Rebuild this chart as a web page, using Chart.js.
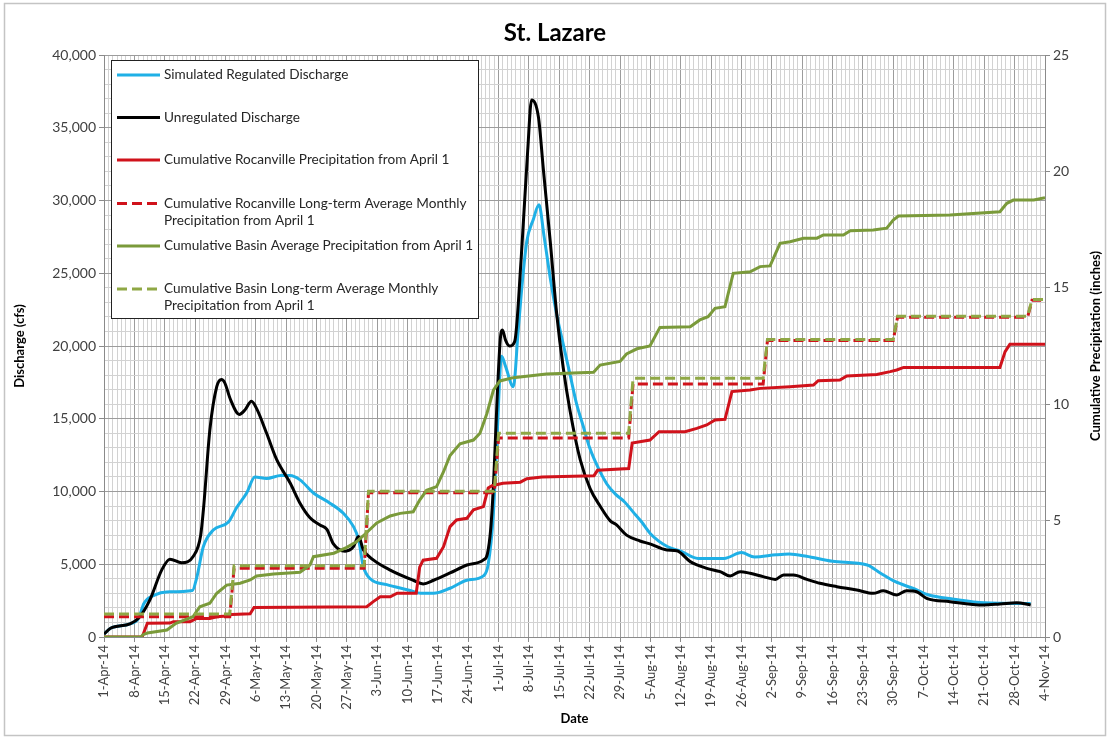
<!DOCTYPE html>
<html>
<head>
<meta charset="utf-8">
<title>St. Lazare</title>
<script src="https://cdn.jsdelivr.net/npm/chart.js@4.4.0/dist/chart.umd.min.js"></script>
<style>
  html, body { margin: 0; padding: 0; background: #fff; }
  #wrap { width: 1110px; height: 740px; }
</style>
</head>
<body>
<div id="wrap"><canvas id="stLazareChart" width="1110" height="740"></canvas></div>
<script>
// x values are days since 1-Apr-14
const dateLabels = ['1-Apr-14', '8-Apr-14', '15-Apr-14', '22-Apr-14', '29-Apr-14', '6-May-14', '13-May-14',
  '20-May-14', '27-May-14', '3-Jun-14', '10-Jun-14', '17-Jun-14', '24-Jun-14', '1-Jul-14', '8-Jul-14',
  '15-Jul-14', '22-Jul-14', '29-Jul-14', '5-Aug-14', '12-Aug-14', '19-Aug-14', '26-Aug-14', '2-Sep-14',
  '9-Sep-14', '16-Sep-14', '23-Sep-14', '30-Sep-14', '7-Oct-14', '14-Oct-14', '21-Oct-14', '28-Oct-14', '4-Nov-14'];

const seriesNames = [
  'Simulated Regulated Discharge',
  'Unregulated Discharge',
  'Cumulative Rocanville Precipitation from April 1',
  'Cumulative Rocanville Long-term Average Monthly\nPrecipitation from April 1',
  'Cumulative Basin Average Precipitation from April 1',
  'Cumulative Basin Long-term Average Monthly\nPrecipitation from April 1'
];

// discharge (cfs)
const regulatedFlow = [[0,200],[1.5,600],[6,900],[8,1300],[9.2,2300],[11.8,2900],[14.4,3100],[20.4,3200],
  [21.4,4100],[22.9,6200],[25.2,7350],[28.7,7900],[30.6,8900],[32.9,9900],[34.8,11000],[37.5,10900],
  [40.8,11100],[42.9,11100],[45.2,10800],[48.3,9900],[52.1,9200],[55.2,8500],[57.5,7600],[58.7,6700],
  [59.8,4850],[61.4,4000],[65.2,3600],[70.6,3200],[73,3000],[76,3000],[79.8,3350],[83.7,3900],[87.5,4200],
  [88.6,5000],[89.8,8500],[90.6,13500],[91.7,19300],[92.6,18600],[94.4,17200],[95.5,21000],[96.5,24500],
  [97.5,27200],[99,28700],[100.3,29700],[101.5,27500],[103,24500],[104.5,22000],[106,20000],[107.5,18000],
  [109,16000],[110.5,14500],[112,13000],[114,11600],[116,10500],[118,9800],[120,9300],[122,8600],[124,7900],
  [126,7100],[130,6200],[133,5900],[137,5400],[143,5400],[147,5800],[150,5500],[155,5650],[158,5700],
  [162,5550],[168,5200],[176,4950],[179,4400],[182.5,3800],[186.5,3350],[190,2900],[196,2600],[203,2350],
  [213.7,2300]];

const unregulatedFlow = [[0,200],[1.5,600],[6,900],[8,1300],[10.5,2500],[13.3,4600],[15.2,5350],[17.9,5100],
  [20.6,5550],[22.3,7000],[23,9000],[24.4,14200],[26,17200],[27.1,17700],[27.8,17500],[29.2,16300],
  [31.2,15300],[32.5,15600],[34,16200],[35.2,15700],[37.5,14000],[39.8,12200],[42.9,10600],[45.2,9200],
  [47.5,8200],[49.8,7700],[51.4,7400],[52.9,6400],[55.6,5900],[57.5,6200],[58.7,6900],[59.8,6000],
  [62.1,5300],[66,4600],[71.3,3900],[73.6,3650],[76,3900],[79.8,4400],[83.7,4950],[87.5,5300],[88.4,5700],
  [89.2,7500],[89.9,11000],[90.6,16000],[91.4,20500],[91.9,21100],[92.6,20400],[93.5,20000],[94.7,20300],
  [96.2,26000],[97.7,33400],[98.6,36900],[100.2,35700],[101.3,32200],[102.9,27200],[104.4,22200],
  [105.9,18500],[107.5,15500],[109.8,12200],[112.1,10200],[114.4,9000],[116.7,8000],[118.2,7700],
  [120.5,7000],[123.6,6600],[125.9,6400],[129.8,5980],[132.1,5930],[135.2,5180],[139,4720],[142.1,4490],
  [144.4,4190],[146.7,4490],[149,4380],[152,4150],[154.8,3960],[156.7,4260],[159,4260],[162.1,3960],
  [165.1,3690],[169,3460],[173.6,3230],[177.4,3000],[179.7,3180],[182.8,2890],[185.1,3180],[187.4,3110],
  [189.7,2660],[195.1,2430],[202.8,2200],[206.6,2270],[210.5,2360],[213.7,2200]];

// cumulative precipitation (inches)
const rocanvillePrecip = [[0,0],[8.8,0],[10,0.59],[15.2,0.6],[16,0.66],[19.8,0.66],[21.4,0.8],[24.4,0.8],
  [26,0.87],[28.3,0.9],[29.5,0.97],[33.7,1.0],[34.6,1.27],[60.6,1.3],[62.1,1.52],[63.7,1.73],[66,1.73],
  [67.6,1.88],[72,1.88],[72.8,3.0],[73.6,3.3],[76.7,3.38],[78.3,3.88],[79.8,4.74],[81.3,5.03],[83.7,5.1],
  [85.2,5.46],[87.5,5.6],[88.6,6.4],[89.5,6.5],[92,6.6],[96,6.65],[97.5,6.8],[101,6.87],[113,6.93],
  [113.8,7.16],[121,7.24],[121.8,8.33],[125.9,8.46],[128,8.82],[134,8.82],[136.7,8.96],[139,9.11],
  [140.9,9.32],[143.2,9.35],[144.8,10.54],[149,10.61],[151.3,10.68],[158.2,10.75],[163.6,10.82],
  [164.7,11.01],[169.7,11.04],[171.3,11.21],[178.2,11.28],[181.3,11.4],[182.8,11.47],[184.4,11.58],
  [206.6,11.58],[207.8,12.26],[208.9,12.57],[217,12.57]];

const basinPrecip = [[0,0],[8.5,0],[9,0.1],[10,0.17],[14.5,0.3],[16.6,0.59],[20.5,0.87],[22.1,1.3],
  [24.4,1.45],[26,1.88],[28.3,2.23],[31.4,2.31],[33.7,2.45],[35.2,2.62],[39.1,2.71],[45.2,2.78],[47.5,3.09],
  [48.3,3.45],[53,3.6],[56,3.85],[58.3,4.1],[59.8,4.35],[62.9,4.9],[66,5.2],[68.3,5.31],[71.3,5.38],
  [72.8,5.88],[74.4,6.3],[76.7,6.46],[78.3,7.1],[79.8,7.8],[82.1,8.3],[85.2,8.46],[86.7,8.75],[88.3,9.6],
  [89.8,10.6],[91.3,11.0],[94.4,11.14],[102,11.3],[112.9,11.37],[114.4,11.68],[119,11.84],[120.5,12.16],
  [122.9,12.38],[125.9,12.5],[128.2,13.3],[135.2,13.33],[137.4,13.62],[139.3,13.76],[140.9,14.12],
  [143.2,14.19],[145.1,15.62],[149,15.69],[151.3,15.91],[153.6,15.94],[155.9,16.91],[158.2,16.98],
  [161.3,17.13],[164.4,17.13],[165.9,17.27],[170.5,17.27],[172.1,17.45],[177.4,17.48],[180.5,17.56],
  [182,17.91],[183.2,18.08],[195.1,18.13],[206.6,18.27],[208.2,18.63],[209.7,18.77],[214.4,18.77],[217,18.87]];

// long-term average monthly values, cumulative (inches)
const monthStartDays = [0, 30, 61, 91, 122, 153, 183, 214];
const rocanvilleLtAvg = [0.87, 2.95, 6.2, 8.55, 10.87, 12.74, 13.74, 14.46];
const basinLtAvg = [0.99, 3.06, 6.26, 8.75, 11.11, 12.78, 13.78, 14.5];
const lastDay = 217;

const rightAxisTitle = 'Cumulative Precipitation (inches)';

function toPoints(pairs) {
  return pairs.map(p => ({ x: p[0], y: p[1] }));
}

// monthly steps: value changes between last day of month and first day of next
function monthlySteps(values) {
  const pts = [];
  values.forEach((v, i) => {
    if (i > 0) pts.push({ x: monthStartDays[i] - 1, y: values[i - 1] });
    pts.push({ x: monthStartDays[i], y: v });
  });
  pts.push({ x: lastDay, y: values[values.length - 1] });
  return pts;
}

const FONT = 'Lato';
const minorGrid = '#d2d2d2';
const majorGrid = '#9c9c9c';

// white background + light frame round the whole chart
const framePlugin = {
  id: 'frame',
  beforeDraw(chart) {
    const ctx = chart.ctx;
    ctx.save();
    ctx.fillStyle = '#fff';
    ctx.fillRect(0, 0, chart.width, chart.height);
    ctx.strokeStyle = '#c4c4c4';
    ctx.lineWidth = 1.5;
    ctx.strokeRect(4.5, 3.5, chart.width - 9, chart.height - 8);
    ctx.restore();
  }
};

// boxed legend inside the plot area, top-left
const boxLegendPlugin = {
  id: 'boxLegend',
  afterDatasetsDraw(chart) {
    const ctx = chart.ctx;
    const rowY = [75, 117.5, 160, 203.5, 246, 289];
    ctx.save();
    ctx.fillStyle = '#fff';
    ctx.fillRect(111.5, 60.5, 367, 258);
    ctx.strokeStyle = '#222';
    ctx.lineWidth = 1;
    ctx.strokeRect(111.5, 60.5, 367, 258);
    chart.data.datasets.forEach((ds, i) => {
      const y = rowY[i];
      ctx.beginPath();
      ctx.strokeStyle = ds.borderColor;
      ctx.lineWidth = ds.borderWidth;
      ctx.setLineDash(ds.borderDash || []);
      ctx.moveTo(117, y);
      ctx.lineTo(160, y);
      ctx.stroke();
      ctx.setLineDash([]);
      ctx.fillStyle = '#262626';
      ctx.font = '13.6px ' + FONT;
      ctx.textBaseline = 'middle';
      ctx.textAlign = 'left';
      ds.label.split('\n').forEach((line, j) => {
        ctx.fillText(line, 164, y + j * 17);
      });
    });
    ctx.restore();
  }
};

// right-hand axis title, reading upward like the left one
const rightTitlePlugin = {
  id: 'rightTitle',
  afterDraw(chart) {
    const ctx = chart.ctx;
    const area = chart.chartArea;
    ctx.save();
    ctx.translate(1096, (area.top + area.bottom) / 2);
    ctx.rotate(-Math.PI / 2);
    ctx.font = 'bold 13px ' + FONT;
    ctx.fillStyle = '#000';
    ctx.textAlign = 'center';
    ctx.textBaseline = 'middle';
    ctx.fillText(rightAxisTitle, 0, 0);
    ctx.restore();
  }
};

const lineBase = { pointRadius: 0, borderWidth: 3, fill: false };

const ctx = document.getElementById('stLazareChart').getContext('2d');
window.stLazareChart = new Chart(ctx, {
  type: 'line',
  data: {
    datasets: [
      { ...lineBase, label: seriesNames[0], data: toPoints(regulatedFlow), yAxisID: 'y',
        borderColor: '#1fb0e6', cubicInterpolationMode: 'monotone', order: 6 },
      { ...lineBase, label: seriesNames[1], data: toPoints(unregulatedFlow), yAxisID: 'y',
        borderColor: '#000000', cubicInterpolationMode: 'monotone', order: 5 },
      { ...lineBase, label: seriesNames[2], data: toPoints(rocanvillePrecip), yAxisID: 'y2',
        borderColor: '#d0121b', order: 4 },
      { ...lineBase, label: seriesNames[3], data: monthlySteps(rocanvilleLtAvg), yAxisID: 'y2',
        borderColor: '#d0121b', borderDash: [10, 5], order: 3 },
      { ...lineBase, label: seriesNames[4], data: toPoints(basinPrecip), yAxisID: 'y2',
        borderColor: '#7a9a3a', order: 2 },
      { ...lineBase, label: seriesNames[5], data: monthlySteps(basinLtAvg), yAxisID: 'y2',
        borderColor: '#8fa845', borderDash: [10, 5], order: 1 }
    ]
  },
  options: {
    responsive: false,
    animation: false,
    devicePixelRatio: 1,
    layout: { padding: 0 },
    plugins: {
      legend: { display: false },
      tooltip: { enabled: false },
      title: {
        display: true,
        text: 'St. Lazare',
        color: '#000',
        font: { family: FONT, size: 24, weight: 'bold' },
        padding: { top: 19, bottom: 7.2 }
      }
    },
    scales: {
      x: {
        type: 'linear',
        min: 0,
        max: lastDay,
        afterFit: s => { s.height = 103; },
        ticks: {
          stepSize: 1,
          autoSkip: false,
          minRotation: 90,
          maxRotation: 90,
          color: '#404040',
          font: { family: FONT, size: 13 },
          callback: v => {
            const d = Math.round(v);
            return d % 7 === 0 ? dateLabels[d / 7] : '';
          }
        },
        grid: {
          color: c => (Math.round(c.tick.value) % 7 === 0 ? majorGrid : minorGrid),
          tickColor: c => (Math.round(c.tick.value) % 7 === 0 ? '#8a8a8a' : 'rgba(0,0,0,0)'),
          tickLength: 5
        },
        border: { color: '#8a8a8a' },
        title: {
          display: true,
          text: 'Date',
          color: '#000',
          font: { family: FONT, size: 13, weight: 'bold' },
          padding: { top: 0, bottom: 13 }
        }
      },
      y: {
        position: 'left',
        min: 0,
        max: 40000,
        afterFit: s => { s.width = 104; },
        ticks: {
          stepSize: 1000,
          autoSkip: false,
          color: '#404040',
          font: { family: FONT, size: 14 },
          callback: v => (v % 5000 === 0 ? v.toLocaleString('en-US') : '')
        },
        grid: {
          color: c => (c.tick.value % 5000 === 0 ? majorGrid : minorGrid),
          tickColor: c => (c.tick.value % 5000 === 0 ? '#8a8a8a' : 'rgba(0,0,0,0)'),
          tickLength: 5
        },
        border: { color: '#8a8a8a' },
        title: {
          display: true,
          text: 'Discharge (cfs)',
          color: '#000',
          font: { family: FONT, size: 13, weight: 'bold' },
          padding: { top: 12, bottom: 0 }
        }
      },
      y2: {
        position: 'right',
        min: 0,
        max: 25,
        afterFit: s => { s.width = 65; },
        ticks: {
          stepSize: 5,
          color: '#404040',
          font: { family: FONT, size: 14 }
        },
        grid: { drawOnChartArea: false, tickColor: '#8a8a8a', tickLength: 5 },
        border: { color: '#8a8a8a' }
      }
    }
  },
  plugins: [framePlugin, boxLegendPlugin, rightTitlePlugin]
});
</script>
</body>
</html>
